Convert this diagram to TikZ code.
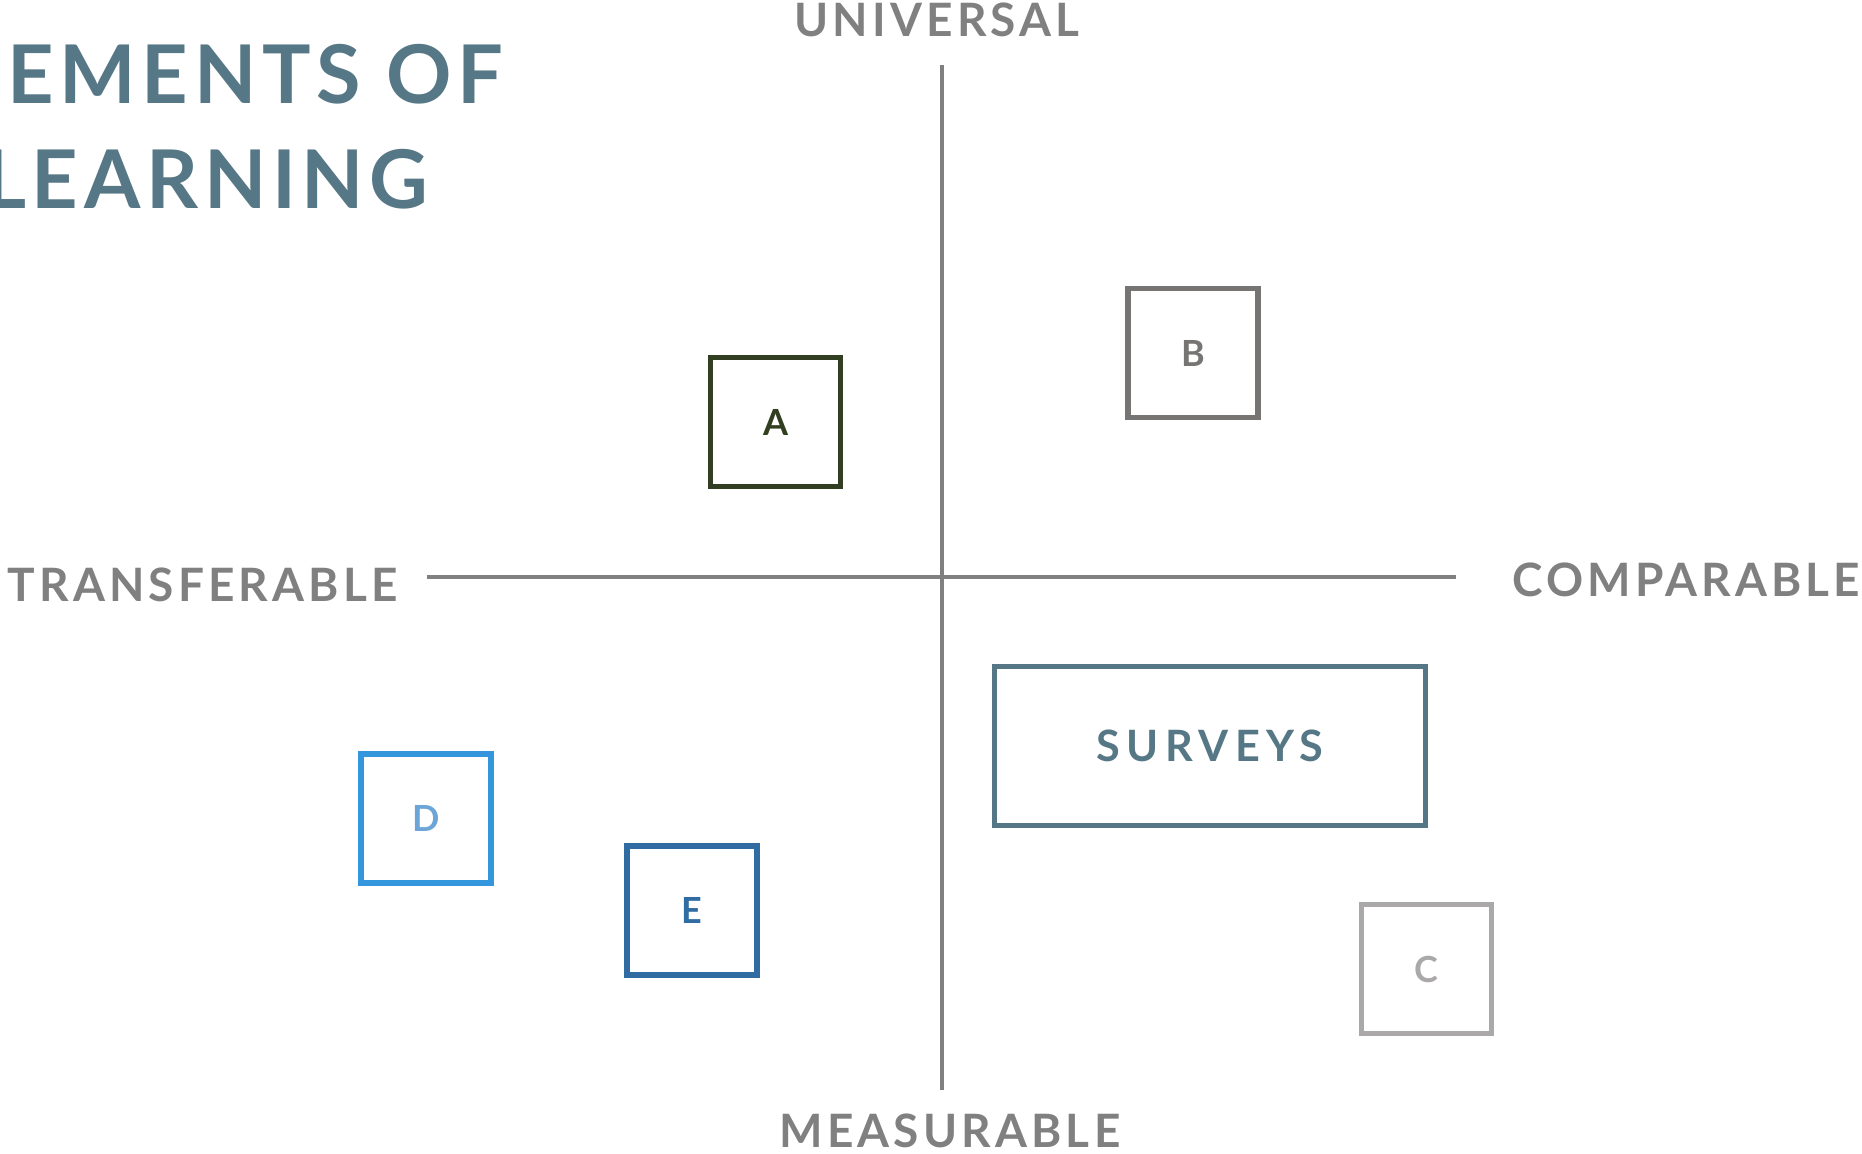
\documentclass[tikz,border=0pt]{standalone}
\usepackage{fontspec}
\setmainfont{Lato}
\newfontfamily\titlefont[LetterSpace=7]{Lato}
\newfontfamily\axisfont[LetterSpace=9]{Lato}
\newfontfamily\boxfont[LetterSpace=15]{Lato}
\usetikzlibrary{positioning}
\definecolor{axisgray}{HTML}{808080}
\definecolor{slate}{HTML}{567785}
\definecolor{olive}{HTML}{323E22}
\definecolor{warmgray}{HTML}{777474}
\definecolor{lightgray}{HTML}{AAA8A8}
\definecolor{skyblue}{HTML}{3497DE}
\definecolor{skytext}{HTML}{6CA5D7}
\definecolor{deepblue}{HTML}{306BA1}
\tikzset{
    quad/.style={
           rectangle,
           draw, line width=2.75pt,
           minimum width=65pt,
           minimum height=64.5pt,
           inner sep=0pt,
           font=\bfseries\fontsize{18}{18}\selectfont,
           text centered,
           },
    axis/.style={
           draw=axisgray,
           line width=1.75pt,},
    axlabel/.style={
           inner sep=0pt,
           text=axisgray,
           font=\axisfont\bfseries\fontsize{23}{23}\selectfont,},
    heading/.style={
           inner sep=0pt,
           text=slate,
           font=\titlefont\bfseries\fontsize{40.5}{40.5}\selectfont,}
}
\begin{document}
\begin{tikzpicture}[x=0.5pt,y=-0.5pt]
\useasboundingbox (0,0) rectangle (1862,1153);
\clip (0,0) rectangle (1862,1153);
% TITLE
\node[heading, anchor=base west] (TITLEA) at (7,103) {EMENTS OF};
\node[heading, anchor=base east] (TITLEB) at (429,208) {LEARNING};
% AXES
\coordinate (TOP) at (942,65);
\coordinate (BOTTOM) at (942,1090);
\coordinate (LEFT) at (427,577);
\coordinate (RIGHT) at (1456,577);
\path (TOP) edge[axis] (BOTTOM);
\path (LEFT) edge[axis] (RIGHT);
% Axis labels
\node[axlabel, anchor=base] (UNIV) at (937,36) {UNIVERSAL};
\node[axlabel, anchor=base] (MEAS) at (950,1147) {MEASURABLE};
\node[axlabel, anchor=base east] (TRANS) at (398,601) {TRANSFERABLE};
\node[axlabel, anchor=base west] (COMP) at (1512,596) {COMPARABLE};
% Boxes
\node[quad, draw=olive, text=olive] (BOXA) at (775.5,422) {A};
\node[quad, draw=warmgray, text=warmgray] (BOXB) at (1193,353) {B};
\node[quad, draw=lightgray, text=lightgray] (BOXC) at (1426.5,969) {C};
\node[quad, draw=skyblue, text=skytext] (BOXD) at (426,818.5) {D};
\node[quad, draw=deepblue, text=deepblue] (BOXE) at (692,910.5) {E};
\node[quad, draw=slate, text=slate,
      minimum width=215.5pt, minimum height=79.5pt,
      font=\boxfont\bfseries\fontsize{21.6}{21.6}\selectfont] (SURVEYS) at (1210,746) {SURVEYS};
\end{tikzpicture}
\end{document}
